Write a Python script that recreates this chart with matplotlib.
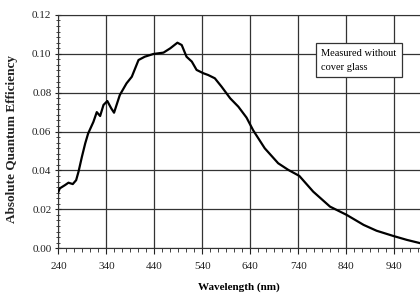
import numpy as np
import matplotlib
matplotlib.use('Agg')
import matplotlib.pyplot as plt
from matplotlib.ticker import AutoMinorLocator

plt.rcParams['font.family'] = ['Liberation Serif', 'DejaVu Serif']

# wavelength (nm) and absolute quantum efficiency
wavelength = [240, 243, 254, 261, 270, 277, 282, 289, 296, 302, 313, 320, 327, 334,
              342, 350, 356, 368, 382, 393, 407, 420, 438, 459, 473, 488, 497, 507,
              518, 528, 542, 552, 566, 580, 598, 615, 632, 646, 670, 698, 719, 742,
              771, 806, 841, 876, 903, 938, 966, 994]
qe = [0.029, 0.0308, 0.0325, 0.0337, 0.033, 0.035, 0.0394, 0.047, 0.054, 0.059,
      0.065, 0.070, 0.068, 0.0737, 0.0757, 0.072, 0.0697, 0.0788, 0.0848, 0.0882,
      0.0968, 0.0985, 0.0999, 0.1006, 0.1028, 0.1057, 0.1045, 0.0985, 0.096, 0.0917,
      0.090, 0.0891, 0.0874, 0.0831, 0.0771, 0.0728, 0.0672, 0.0606, 0.0514, 0.0437,
      0.0403, 0.0372, 0.0291, 0.0214, 0.0171, 0.012, 0.009, 0.0063, 0.0043, 0.0026]
xticks = [240, 340, 440, 540, 640, 740, 840, 940]
yticks = [0.00, 0.02, 0.04, 0.06, 0.08, 0.10, 0.12]

fig = plt.figure(figsize=(4.2, 2.98), dpi=100)
ax = fig.add_axes([0.139, 0.167, 0.861, 0.783])

ax.plot(wavelength, qe, color='black', lw=1.6, zorder=3)

ax.set_xlim(240, 993.5)
ax.set_ylim(0, 0.12)
ax.set_xticks(xticks)
ax.set_yticks(yticks)
ax.set_yticklabels(['%.2f' % v for v in yticks])
ax.xaxis.set_minor_locator(AutoMinorLocator(6))
ax.yaxis.set_minor_locator(AutoMinorLocator(7))
ax.grid(True, which='major', color='#333333', lw=0.9)
ax.set_axisbelow(True)

ax.tick_params(axis='x', which='both', direction='out', labelsize=8, pad=6, colors='#222222')
ax.tick_params(axis='y', which='both', direction='inout', labelsize=8, pad=3, colors='#222222')
ax.tick_params(which='major', length=4)
ax.tick_params(which='minor', length=3)

ax.spines['right'].set_visible(False)
for s in ['left', 'bottom', 'top']:
    ax.spines[s].set_color('#333333')

ax.set_xlabel('Wavelength (nm)', fontsize=8, fontweight='bold', labelpad=8)
ax.set_ylabel('Absolute Quantum Efficiency', fontsize=9.5, fontweight='bold', color='#222222')
ax.yaxis.set_label_coords(-0.113, 0.47)

fig.text(0.765, 0.835, 'Measured without\ncover glass', fontsize=7.5, va='top', ha='left',
         linespacing=1.65,
         bbox=dict(boxstyle='square,pad=0.55', fc='white', ec='#333333', lw=0.9))

fig.savefig('out.png', dpi=100)
